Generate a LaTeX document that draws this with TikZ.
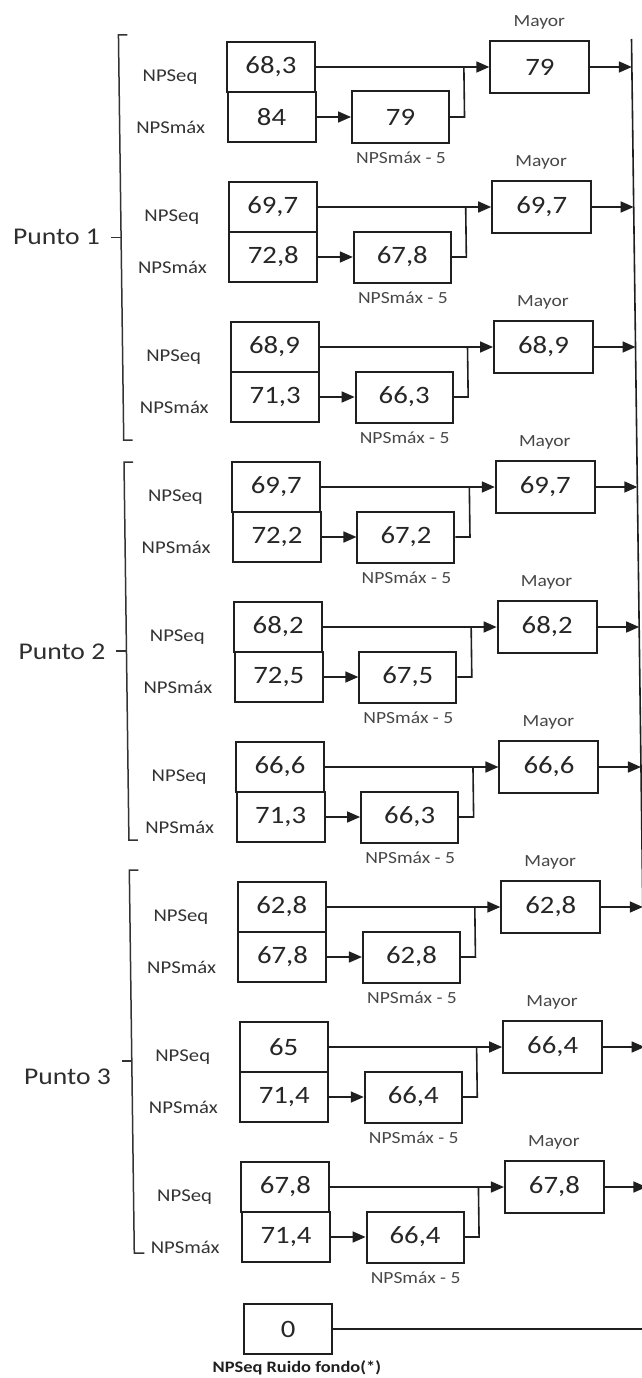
\documentclass[tikz,border=0pt]{standalone}
\usepackage{fontspec}
\setmainfont{Carlito}[FakeStretch=1.15]
\usetikzlibrary{arrows.meta}
\begin{document}
\begin{tikzpicture}[x=1pt,y=-1pt,
  vbox/.style={draw=black!88, line width=2pt, minimum width=88pt, minimum height=50pt, inner sep=0pt, font=\fontsize{25}{25}\selectfont, text=black!85},
  mbox/.style={vbox, minimum width=97pt, minimum height=51pt},
  gbox/.style={vbox, minimum width=99pt, minimum height=52pt},
  rowlab/.style={font=\fontsize{18}{18}\selectfont, text=black!80, inner sep=0pt},
  tag/.style={font=\fontsize{17}{17}\selectfont, text=black!72, inner sep=0pt},
  conn/.style={draw=black!88, line width=1.6pt},
  arr/.style={conn, -{Triangle[length=13pt,width=11pt]}},
  brk/.style={draw=black!80, line width=1.5pt},
  punto/.style={font=\fontsize{24}{24}\selectfont, text=black!82, anchor=east, inner sep=0pt},
  foot/.style={font=\bfseries\fontsize{16}{16}\selectfont, text=black!88, inner sep=0pt}]
\useasboundingbox (0,0) rectangle (642,1378);
\clip (0,0) rectangle (642,1378);
\fill[white] (0,0) rectangle (642,1378);
\begin{scope}[xslant=-0.013]
\foreach \i/\a/\b/\c/\d in {0/68{,}3/84/79/79, 1/69{,}7/72{,}8/67{,}8/69{,}7, 2/68{,}9/71{,}3/66{,}3/68{,}9, 3/69{,}7/72{,}2/67{,}2/69{,}7, 4/68{,}2/72{,}5/67{,}5/68{,}2, 5/66{,}6/71{,}3/66{,}3/66{,}6, 6/62{,}8/67{,}8/62{,}8/62{,}8, 7/65/71{,}4/66{,}4/66{,}4, 8/67{,}8/71{,}4/66{,}4/67{,}8}{
  \pgfmathsetmacro\ya{67+140*\i}
  \pgfmathsetmacro\yb{\ya+50}
  \node[vbox] (eq\i) at (270,\ya) {\a};
  \node[vbox] (mx\i) at (270,\yb) {\b};
  \node[mbox] (md\i) at (399,\yb) {\c};
  \node[gbox] (my\i) at (539,\ya) {\d};
  \node[rowlab] (le\i) at (169,\ya+10) {NPSeq};
  \node[rowlab] (lm\i) at (169,\yb+10) {NPSmáx};
  \node[tag] (tm\i) at (539,\ya-45) {Mayor};
  \node[tag] (tn\i) at (399,\yb+41) {NPSmáx - 5};
  \coordinate (j\i) at (463,\ya);
  \coordinate (r\i) at (631,\ya);
  \draw[arr] (mx\i) -- (md\i);
  \draw[arr] (eq\i.east) -- (my\i.west);
  \draw[conn] (md\i.east) -| (j\i);
  \draw[arr] (my\i.east) -- (r\i);
}
% brackets
\draw[brk] (127,35) -- (118,35) -- (118,440) -- (127,440);
\draw[brk] (118,237.5) -- (108,237.5);
\node[punto] (p1) at (97,237) {Punto 1};
\draw[brk] (127,462) -- (118,462) -- (118,840) -- (127,840);
\draw[brk] (118,651) -- (108,651);
\node[punto] (p2) at (97,652) {Punto 2};
\draw[brk] (127,870) -- (118,870) -- (118,1253) -- (128,1253);
\draw[brk] (118,1061) -- (108,1061);
\node[punto] (p3) at (97,1077) {Punto 3};
% background noise box
\node[vbox] (z) at (271,1329) {0};
\node[foot] (zl) at (279,1368) {NPSeq Ruido fondo(*)};
\coordinate (rtop) at (631,39);
\coordinate (rz) at (631,1329);
\draw[conn] (z) -- (rz);
\draw[conn] (rtop) -- (rz);
\end{scope}
\end{tikzpicture}
\end{document}
